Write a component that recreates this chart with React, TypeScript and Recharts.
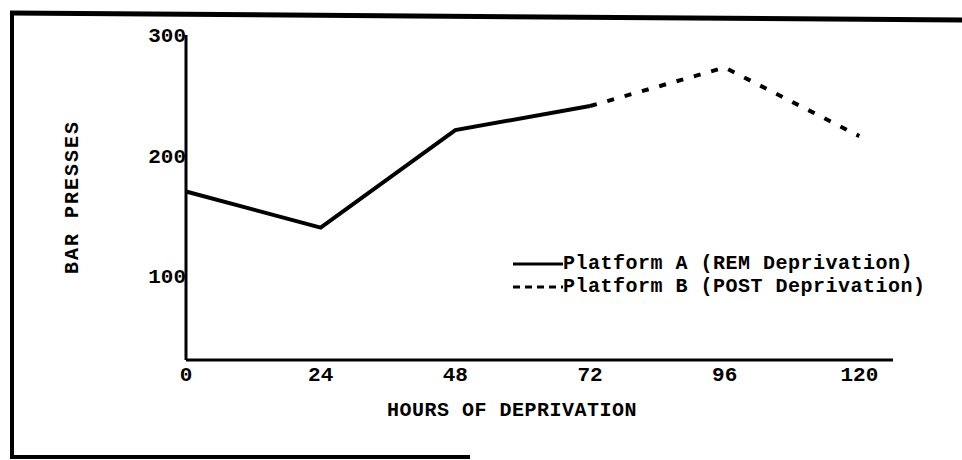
import { LineChart, Line, XAxis, YAxis } from 'recharts'

const hours = [0, 24, 48, 72, 96, 120]
const platformA = [170, 140, 221, 241, null, null]
const platformB = [null, null, null, 241, 273, 216]
const yTicks = [100, 200, 300]
const seriesNames = ['Platform A (REM Deprivation)', 'Platform B (POST Deprivation)']

const data = hours.map((h, i) => ({ hours: h, a: platformA[i], b: platformB[i] }))

const font = '"Liberation Mono", "DejaVu Sans Mono", monospace'

function TypedLegend() {
  return (
    <div style={{ fontFamily: font, fontWeight: 'bold', fontSize: 20, color: '#000', lineHeight: '23px' }}>
      {seriesNames.map((name, i) => (
        <div key={name} style={{ display: 'flex', alignItems: 'center', whiteSpace: 'nowrap' }}>
          <svg width={50} height={10}>
            <line
              x1={0}
              y1={5}
              x2={50}
              y2={5}
              stroke="#000"
              strokeWidth={3}
              strokeDasharray={i === 1 ? '7 5' : undefined}
            />
          </svg>
          <span style={{ letterSpacing: 0.5 }}>{name}</span>
        </div>
      ))}
    </div>
  )
}

export default function App() {
  return (
    <div style={{ position: 'absolute', left: 0, top: 0, width: 962, height: 460, background: '#fff', overflow: 'hidden' }}>
      {/* scanned page frame */}
      <svg width={962} height={460} style={{ position: 'absolute', left: 0, top: 0 }}>
        <line x1={10} y1={13} x2={962} y2={20} stroke="#000" strokeWidth={5} />
        <line x1={12} y1={12} x2={12} y2={458} stroke="#000" strokeWidth={4} />
        <line x1={10} y1={457} x2={470} y2={457} stroke="#000" strokeWidth={4} />
      </svg>

      <div style={{ position: 'absolute', left: 0, top: 0 }}>
        <LineChart width={962} height={460} data={data} margin={{ top: 35, right: 69, bottom: 70, left: 136 }}>
          <XAxis
            dataKey="hours"
            type="number"
            domain={[0, 126]}
            ticks={hours}
            tickSize={0}
            tickMargin={6}
            height={30}
            axisLine={{ stroke: '#000', strokeWidth: 3 }}
            tick={{ fill: '#000', fontFamily: font, fontWeight: 'bold', fontSize: 21 }}
          />
          <YAxis
            type="number"
            domain={[30, 300]}
            ticks={yTicks}
            tickSize={0}
            tickMargin={0}
            width={50}
            axisLine={{ stroke: '#000', strokeWidth: 3 }}
            tick={{ fill: '#000', fontFamily: font, fontWeight: 'bold', fontSize: 21 }}
          />
          <Line
            dataKey="a"
            stroke="#000"
            strokeWidth={4}
            dot={false}
            connectNulls={false}
            isAnimationActive={false}
          />
          <Line
            dataKey="b"
            stroke="#000"
            strokeWidth={4}
            strokeDasharray="7 11"
            dot={false}
            connectNulls={false}
            isAnimationActive={false}
          />
        </LineChart>
      </div>

      <div style={{ position: 'absolute', left: 513, top: 252 }}>
        <TypedLegend />
      </div>

      <div
        style={{
          position: 'absolute',
          left: 72,
          top: 197,
          transform: 'translate(-50%, -50%) rotate(-90deg)',
          fontFamily: font,
          fontWeight: 'bold',
          fontSize: 20,
          letterSpacing: 2,
          whiteSpace: 'nowrap',
        }}
      >
        BAR PRESSES
      </div>
      <div
        style={{
          position: 'absolute',
          left: 512,
          top: 410,
          transform: 'translate(-50%, -50%)',
          fontFamily: font,
          fontWeight: 'bold',
          fontSize: 20,
          letterSpacing: 0.5,
          whiteSpace: 'nowrap',
        }}
      >
        HOURS OF DEPRIVATION
      </div>
    </div>
  )
}
